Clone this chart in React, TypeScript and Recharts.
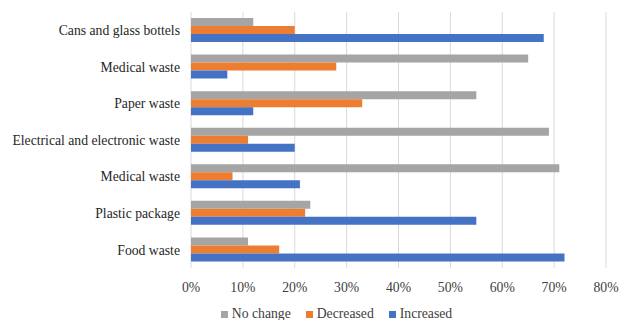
// Waste change survey, horizontal grouped bars
import React from "react";
import {
  BarChart,
  Bar,
  XAxis,
  YAxis,
  CartesianGrid,
  Legend,
} from "recharts";

const categories = [
  "Cans and glass bottels",
  "Medical waste",
  "Paper waste",
  "Electrical and electronic waste",
  "Medical waste",
  "Plastic package",
  "Food waste",
];
const noChange = [12, 65, 55, 69, 71, 23, 11];
const decreased = [20, 28, 33, 11, 8, 22, 17];
const increased = [68, 7, 12, 20, 21, 55, 72];
const xTicks = [0, 10, 20, 30, 40, 50, 60, 70, 80];
const legendOrder = ["No change", "Decreased", "Increased"];

const data = categories.map((name, i) => ({
  key: i,
  name,
  noChange: noChange[i],
  decreased: decreased[i],
  increased: increased[i],
}));

const font = "Liberation Serif";
const fs = 13.7;

const CategoryTick = ({ x, y, payload }: any) => (
  <text
    x={x - 11}
    y={y}
    dy="0.35em"
    textAnchor="end"
    fontSize={fs}
    fontFamily={font}
    fill="#262626"
  >
    {categories[payload.value]}
  </text>
);

const PercentTick = ({ x, y, payload }: any) => (
  <text
    x={x}
    y={y}
    dy="0.35em"
    textAnchor="middle"
    fontSize={fs}
    fontFamily={font}
    fill="#404040"
  >
    {`${payload.value}%`}
  </text>
);

export default function App() {
  return (
    <div style={{ position: "absolute", left: 0, top: 0, fontFamily: font }}>
      <BarChart
        width={619}
        height={320}
        data={data}
        layout="vertical"
        margin={{ top: 12, right: 13, bottom: 0, left: 0 }}
        barSize={8}
        barGap={0}
      >
        <CartesianGrid horizontal={false} stroke="#d9d9d9" />
        <XAxis
          type="number"
          domain={[0, 80]}
          ticks={xTicks}
          axisLine={false}
          tickLine={false}
          tickSize={0}
          tickMargin={19}
          tick={<PercentTick />}
          height={36}
        />
        <YAxis
          type="category"
          dataKey="key"
          width={191}
          axisLine={false}
          tickLine={false}
          tickSize={0}
          tickMargin={0}
          tick={<CategoryTick />}
        />
        <Legend
          verticalAlign="bottom"
          iconType="square"
          iconSize={7}
          itemSorter={(item: any) => legendOrder.indexOf(item.value)}
          wrapperStyle={{ fontSize: fs, fontFamily: font, lineHeight: "16px", paddingLeft: 41, bottom: -2 }}
          formatter={(value) => (
            <span style={{ color: "#404040", paddingRight: 5 }}>{value}</span>
          )}
        />
        <Bar dataKey="noChange" name="No change" fill="#a5a5a5" isAnimationActive={false} />
        <Bar dataKey="decreased" name="Decreased" fill="#ed7d31" isAnimationActive={false} />
        <Bar dataKey="increased" name="Increased" fill="#4472c4" isAnimationActive={false} />
      </BarChart>
    </div>
  );
}
